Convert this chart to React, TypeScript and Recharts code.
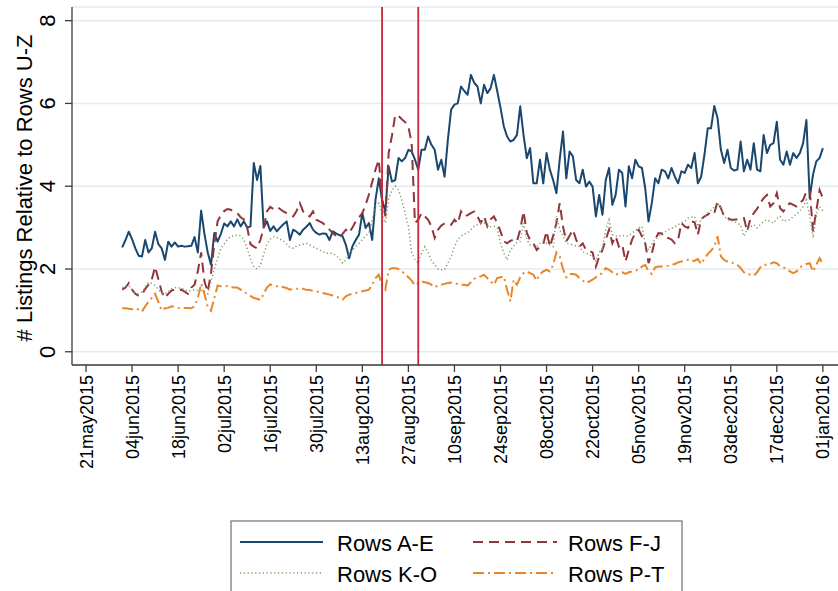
import { LineChart, Line, XAxis, YAxis, CartesianGrid, ReferenceLine } from "recharts";

// Day 0 = 21may2015; series are daily from 01jun2015 (day 11).
const startDay = 11;

const tickDays = [0, 14, 28, 42, 56, 70, 84, 98, 112, 126, 140, 154, 168, 182, 196, 210, 224];
const tickLabels = [
  "21may2015", "04jun2015", "18jun2015", "02jul2015", "16jul2015", "30jul2015",
  "13aug2015", "27aug2015", "10sep2015", "24sep2015", "08oct2015", "22oct2015",
  "05nov2015", "19nov2015", "03dec2015", "17dec2015", "01jan2016",
];
const yTicks = [0, 2, 4, 6, 8];
const eventDays = [90, 101];

const rowsAE = [
  2.52, 2.7, 2.9, 2.72, 2.5, 2.32, 2.3, 2.7, 2.4, 2.5,
  2.9, 2.6, 2.5, 2.22, 2.66, 2.54, 2.64, 2.54, 2.56, 2.54,
  2.55, 2.56, 2.77, 2.4, 3.41, 2.85, 2.4, 2.1, 2.87, 2.66,
  2.85, 3.1, 3.03, 3.15, 3.03, 3.2, 3.03, 3.15, 3.0, 3.03,
  4.56, 4.15, 4.49, 3.0, 3.15, 2.92, 3.03, 2.91, 3.0, 3.08,
  3.15, 2.7, 2.95, 2.9, 2.83, 2.95, 3.02, 3.11, 2.95, 2.87,
  2.83, 2.86, 2.85, 2.7, 2.91, 2.86, 2.82, 2.79, 2.58, 2.26,
  2.55, 2.7, 2.83, 3.35, 2.99, 3.11, 2.7, 3.67, 4.19, 3.67,
  3.39, 4.48, 4.11, 4.15, 4.68, 4.6, 4.68, 4.88, 4.84, 4.64,
  4.4, 4.88, 4.88, 5.2, 5.0, 4.88, 4.4, 4.64, 4.23, 5.12,
  5.85, 5.97, 6.0, 6.41, 6.3, 6.21, 6.69, 6.5, 6.41, 6.0,
  6.45, 6.25, 6.37, 6.69, 6.3, 5.9, 5.45, 5.2, 5.08, 5.12,
  5.24, 5.93, 5.24, 4.68, 4.92, 4.07, 4.07, 4.64, 4.07, 4.8,
  4.4, 4.15, 3.83, 4.64, 5.32, 4.19, 4.84, 4.72, 4.15, 4.07,
  4.4, 3.99, 4.11, 3.99, 3.27, 3.79, 3.31, 4.15, 4.44, 3.55,
  3.79, 4.4, 4.32, 3.51, 4.48, 4.19, 4.64, 4.48, 4.44, 3.95,
  3.15, 3.59, 4.19, 4.07, 4.4, 4.36, 4.19, 4.44, 4.23, 4.07,
  4.36, 4.32, 4.52, 4.44, 4.8, 4.07, 4.23, 4.76, 5.4, 5.4,
  5.94, 5.64, 4.88, 4.56, 4.88, 4.44, 4.38, 4.4, 5.08, 4.36,
  4.64, 4.4, 5.04, 4.4, 4.36, 5.24, 4.8, 5.0, 5.04, 5.56,
  4.64, 4.52, 4.84, 4.52, 4.8, 4.68, 4.8, 5.04, 5.6, 3.71,
  4.28, 4.6, 4.68, 4.92,
];

const rowsFJ = [
  1.5, 1.55, 1.66, 1.5, 1.4, 1.35, 1.38, 1.52, 1.62, 1.75,
  2.05, 1.75, 1.45, 1.3, 1.4, 1.48, 1.5, 1.48, 1.5, 1.45,
  1.4, 1.55, 1.62, 1.95, 2.4, 1.7, 1.45, 1.9, 2.6, 3.15,
  3.3, 3.4, 3.45, 3.43, 3.38, 3.35, 3.25, 3.2, 3.0, 2.6,
  2.54, 2.5, 2.7, 2.99, 3.39, 3.5, 3.45, 3.5, 3.45, 3.39,
  3.35, 3.31, 3.27, 3.4, 3.59, 3.39, 3.3, 3.27, 3.39, 3.19,
  3.15, 3.11, 3.03, 2.95, 2.87, 2.8, 2.75, 2.85, 2.95, 2.87,
  3.0, 3.15, 3.25, 3.35, 3.55, 3.8, 4.1, 4.4, 4.64, 3.67,
  3.27, 4.8, 5.22, 5.72, 5.7, 5.62, 5.55, 5.44, 5.04, 3.11,
  3.19, 3.35, 3.27, 3.19, 3.03, 2.75, 2.95, 3.05, 3.1, 3.11,
  3.07, 3.19, 3.1, 3.39, 3.27, 3.3, 3.35, 3.39, 3.27, 3.11,
  3.27, 3.03, 3.2, 3.27, 3.11, 2.91, 2.67, 2.62, 2.68, 2.71,
  2.67, 2.95, 3.39, 2.87, 2.7, 2.62, 2.46, 2.54, 2.6, 2.91,
  2.54, 2.8, 3.11, 3.59, 3.03, 2.67, 2.8, 2.95, 2.71, 2.54,
  2.62, 2.46, 2.44, 2.4, 2.06, 2.3, 2.46, 2.71, 2.95, 2.62,
  2.79, 2.54, 2.6, 2.18, 2.46, 2.71, 2.87, 2.95, 2.79, 2.62,
  2.14, 2.38, 2.71, 2.87, 2.86, 2.75, 2.75, 2.71, 2.62, 2.71,
  3.11, 3.03, 2.99, 3.15, 3.13, 2.83, 3.2, 3.27, 3.31, 3.39,
  3.35, 3.63, 3.47, 3.27, 3.23, 3.19, 3.19, 3.2, 3.23, 3.23,
  2.91, 3.23, 3.35, 3.45, 3.6, 3.71, 3.79, 3.51, 3.59, 3.83,
  3.47, 3.39, 3.51, 3.59, 3.55, 3.51, 3.6, 3.67, 3.87, 3.91,
  2.91, 3.4, 3.91, 3.71,
];

const rowsKO = [
  1.55, 1.58, 1.6, 1.5, 1.42, 1.4, 1.45, 1.55, 1.68, 1.65,
  1.6, 1.5, 1.42, 1.4, 1.45, 1.52, 1.55, 1.54, 1.54, 1.5,
  1.46, 1.48, 1.5, 1.48, 1.48, 1.45, 1.4, 1.7, 2.0, 2.25,
  2.5, 2.6, 2.72, 2.78, 2.8, 2.83, 2.8, 2.7, 2.5, 2.25,
  2.05, 2.0, 2.1, 2.35, 2.6, 2.72, 2.78, 2.76, 2.72, 2.68,
  2.6, 2.52, 2.5, 2.55, 2.58, 2.6, 2.62, 2.58, 2.54, 2.5,
  2.46, 2.42, 2.38, 2.38, 2.38, 2.32, 2.26, 2.14, 2.22, 2.35,
  2.45, 2.54, 2.62, 2.71, 2.8, 2.87, 3.19, 3.51, 3.59, 3.3,
  3.11, 3.7, 3.9, 4.0, 3.91, 3.67, 3.35, 3.03, 2.4, 2.22,
  2.14, 2.38, 2.54, 2.4, 2.2, 2.1, 2.0, 1.98, 1.98, 2.14,
  2.3, 2.54, 2.71, 2.79, 2.85, 2.87, 2.95, 3.03, 3.07, 3.11,
  3.11, 3.03, 3.02, 3.03, 3.0, 2.62, 2.38, 2.22, 2.46, 2.55,
  2.64, 2.67, 3.11, 2.71, 2.58, 2.56, 2.54, 2.62, 2.67, 2.62,
  2.58, 2.54, 3.27, 2.95, 2.8, 2.62, 2.6, 2.58, 2.56, 2.54,
  2.42, 2.38, 2.35, 2.3, 2.18, 2.4, 2.5, 2.95, 3.19, 2.83,
  2.8, 2.79, 2.82, 2.79, 2.8, 2.87, 2.93, 2.99, 3.03, 2.62,
  2.46, 2.6, 2.72, 2.79, 2.87, 2.9, 2.95, 2.98, 3.02, 3.07,
  3.12, 3.15, 3.23, 3.25, 3.27, 3.03, 3.2, 3.27, 3.35, 3.42,
  3.5, 3.59, 3.47, 3.27, 3.19, 3.17, 3.15, 3.1, 3.07, 2.79,
  2.95, 3.02, 3.07, 2.99, 3.08, 3.15, 3.19, 3.15, 3.11, 3.22,
  3.27, 3.15, 3.18, 3.19, 3.27, 3.33, 3.4, 3.51, 3.67, 3.27,
  2.75, 3.31, 3.51, 3.4,
];

const rowsPT = [
  1.05, 1.05, 1.04, 1.03, 1.05, 1.02, 0.97, 1.1, 1.21, 1.3,
  1.4, 1.2, 1.0, 1.05, 1.06, 1.1, 1.08, 1.06, 1.05, 1.06,
  1.06, 1.05, 1.1, 1.3, 1.65, 1.4, 1.08, 0.99, 1.3, 1.6,
  1.58, 1.58, 1.59, 1.56, 1.55, 1.55, 1.5, 1.45, 1.4, 1.35,
  1.3, 1.28, 1.25, 1.4, 1.55, 1.63, 1.6, 1.58, 1.58, 1.56,
  1.54, 1.5, 1.52, 1.52, 1.54, 1.52, 1.5, 1.49, 1.47, 1.46,
  1.44, 1.42, 1.4, 1.38, 1.36, 1.33, 1.3, 1.26, 1.34, 1.38,
  1.4, 1.42, 1.44, 1.46, 1.48, 1.5, 1.62, 1.78, 1.86, 1.58,
  1.5, 1.98, 2.02, 2.02, 2.0, 1.94, 1.88, 1.8, 1.72, 1.6,
  1.65, 1.7, 1.68, 1.66, 1.62, 1.56, 1.6, 1.62, 1.64, 1.66,
  1.67, 1.65, 1.64, 1.62, 1.62, 1.6, 1.68, 1.76, 1.8, 1.82,
  1.86, 1.78, 1.7, 1.62, 1.78, 1.8, 1.82, 1.5, 1.22, 1.74,
  1.62, 1.8, 1.9, 1.94, 1.9, 1.86, 1.72, 1.88, 1.94, 1.98,
  1.94, 2.1, 2.4, 2.3, 2.0, 1.8, 1.88, 1.88, 1.86, 1.78,
  1.72, 1.66, 1.7, 1.74, 1.8, 1.86, 1.9, 2.02, 1.98, 1.92,
  1.86, 1.9, 1.92, 1.88, 1.92, 1.94, 1.96, 1.98, 2.06, 2.1,
  1.94, 1.88, 2.04, 2.06, 2.06, 2.07, 2.08, 2.1, 2.12, 2.16,
  2.18, 2.2, 2.22, 2.18, 2.2, 2.24, 2.12, 2.25, 2.36, 2.44,
  2.55, 2.79, 2.3, 2.22, 2.18, 2.16, 2.14, 2.1, 2.02, 1.92,
  1.88, 1.86, 1.84, 1.92, 2.04, 2.1, 2.1, 2.12, 2.16, 2.14,
  2.06, 2.04, 2.0, 1.94, 1.9, 1.94, 2.04, 2.08, 2.12, 2.14,
  1.94, 2.1, 2.26, 2.12,
];

const data = rowsAE.map((v, i) => ({
  day: startDay + i,
  ae: v,
  fj: rowsFJ[i],
  ko: rowsKO[i],
  pt: rowsPT[i],
}));

const FONT = "'Liberation Sans', Arial, Helvetica, sans-serif";
const NAVY = "#1a476f";
const MAROON = "#90353b";
const GREEN = "#7f9c68";
const ORANGE = "#e8862a";
const AXIS = "#3c3c3c";

function XTick({ x, y, payload }: any) {
  const idx = tickDays.indexOf(payload.value);
  return (
    <text
      transform={`translate(${x + 6.5},${y + 1}) rotate(-90)`}
      textAnchor="end"
      fontSize={18}
      fontFamily={FONT}
      fill="#000"
    >
      {idx >= 0 ? tickLabels[idx] : ""}
    </text>
  );
}

function YTick({ x, y, payload }: any) {
  return (
    <text
      transform={`translate(${x - 8},${y}) rotate(-90)`}
      textAnchor="middle"
      fontSize={22}
      fontFamily={FONT}
      fill="#000"
    >
      {payload.value}
    </text>
  );
}

export default function App() {
  return (
    <div style={{ position: "absolute", left: 0, top: 0, width: 838, height: 591, background: "#fff" }}>
      <LineChart width={838} height={591} data={data} margin={{ top: 7, right: 0, bottom: 0, left: 0 }}>
        <CartesianGrid vertical={false} stroke="#e4ebef" strokeWidth={1.5} />
        <XAxis
          dataKey="day"
          type="number"
          domain={[-4.26, 228.6]}
          ticks={tickDays}
          interval={0}
          height={226}
          tickSize={7}
          tick={<XTick />}
          axisLine={{ stroke: AXIS, strokeWidth: 1.3 }}
          tickLine={{ stroke: AXIS, strokeWidth: 1.3 }}
        />
        <YAxis
          type="number"
          domain={[-0.32, 8.33]}
          ticks={yTicks}
          interval={0}
          width={72}
          tickSize={7}
          tick={<YTick />}
          axisLine={{ stroke: AXIS, strokeWidth: 1.3 }}
          tickLine={{ stroke: AXIS, strokeWidth: 1.3 }}
        />
        <Line dataKey="ae" stroke={NAVY} strokeWidth={2} dot={false} isAnimationActive={false} strokeLinejoin="round" />
        <Line dataKey="fj" stroke={MAROON} strokeWidth={2} strokeDasharray="10 6" dot={false} isAnimationActive={false} />
        <Line dataKey="ko" stroke={GREEN} strokeWidth={1.5} strokeDasharray="1.2 2.6" dot={false} isAnimationActive={false} />
        <Line dataKey="pt" stroke={ORANGE} strokeWidth={2} strokeDasharray="11 4 2 4" dot={false} isAnimationActive={false} />
        {eventDays.map((d) => (
          <ReferenceLine key={d} x={d} stroke="#c8283a" strokeWidth={1.8} />
        ))}
      </LineChart>
      <svg width={838} height={591} style={{ position: "absolute", left: 0, top: 0, pointerEvents: "none" }}>
        <text
          transform="translate(31.5,188) rotate(-90)"
          textAnchor="middle"
          fontSize={22}
          fontFamily={FONT}
          fill="#000"
        >
          # Listings Relative to Rows U-Z
        </text>
        <rect x={231} y={521} width={451} height={80} fill="#fff" stroke="#707070" strokeWidth={1.2} />
        <line x1={240} x2={323} y1={542} y2={542} stroke={NAVY} strokeWidth={2} />
        <text x={337} y={550.5} fontSize={22} fontFamily={FONT} fill="#000">Rows A-E</text>
        <line x1={473} x2={557} y1={542} y2={542} stroke={MAROON} strokeWidth={2} strokeDasharray="10 6" />
        <text x={568} y={550.5} fontSize={22} fontFamily={FONT} fill="#000">Rows F-J</text>
        <line x1={240} x2={323} y1={573} y2={573} stroke={GREEN} strokeWidth={1.5} strokeDasharray="1.2 2.6" />
        <text x={337} y={581.5} fontSize={22} fontFamily={FONT} fill="#000">Rows K-O</text>
        <line x1={473} x2={557} y1={573} y2={573} stroke={ORANGE} strokeWidth={2} strokeDasharray="11 4 2 4" />
        <text x={568} y={581.5} fontSize={22} fontFamily={FONT} fill="#000">Rows P-T</text>
      </svg>
    </div>
  );
}
